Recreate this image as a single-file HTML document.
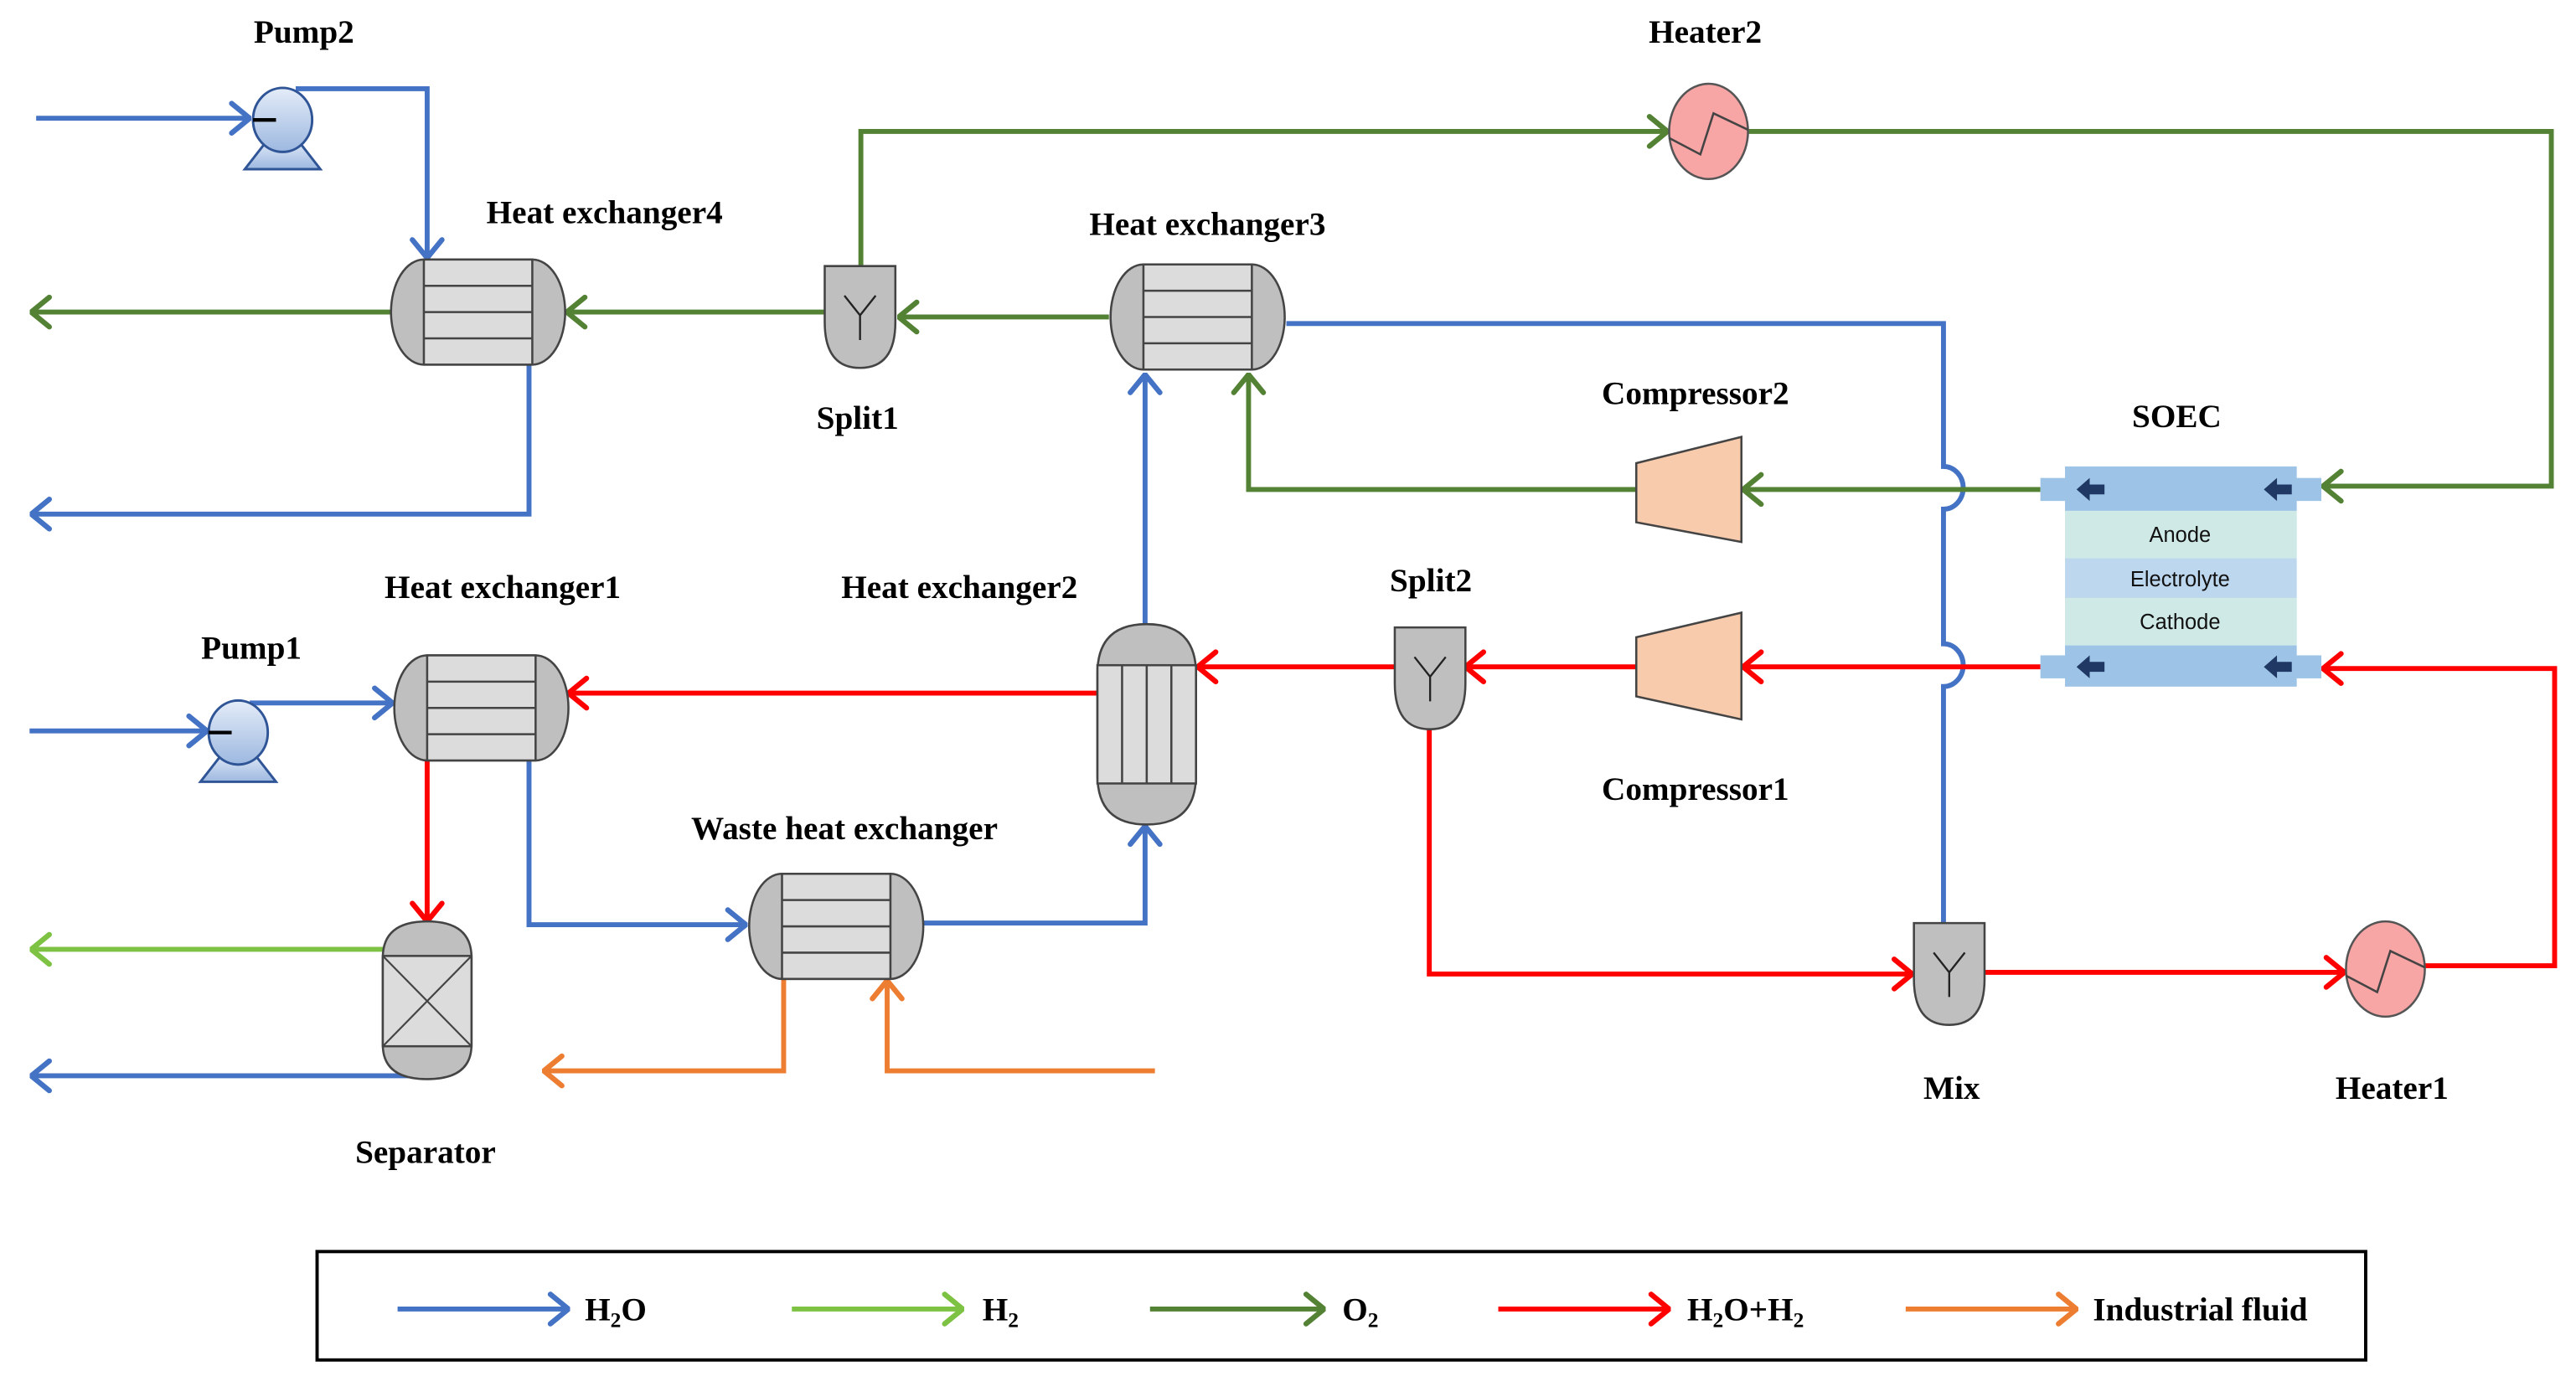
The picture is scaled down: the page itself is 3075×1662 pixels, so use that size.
<!DOCTYPE html>
<html><head><meta charset="utf-8"><style>html,body{margin:0;padding:0;background:#fff}svg{display:block}</style></head>
<body>
<svg width="3075" height="1662" viewBox="0 0 1568 847.5" xmlns="http://www.w3.org/2000/svg" font-family="Liberation Serif, serif">
<defs>
<marker id="mb" viewBox="0 0 14 22" refX="13" refY="11" markerWidth="14" markerHeight="22" markerUnits="userSpaceOnUse" orient="auto"><path d="M2 2 L13 11 L2 20" fill="none" stroke="#4472C4" stroke-width="3.2" stroke-linecap="round"/></marker>
<marker id="mg" viewBox="0 0 14 22" refX="13" refY="11" markerWidth="14" markerHeight="22" markerUnits="userSpaceOnUse" orient="auto"><path d="M2 2 L13 11 L2 20" fill="none" stroke="#548235" stroke-width="3.2" stroke-linecap="round"/></marker>
<marker id="ml" viewBox="0 0 14 22" refX="13" refY="11" markerWidth="14" markerHeight="22" markerUnits="userSpaceOnUse" orient="auto"><path d="M2 2 L13 11 L2 20" fill="none" stroke="#7DC242" stroke-width="3.2" stroke-linecap="round"/></marker>
<marker id="mr" viewBox="0 0 14 22" refX="13" refY="11" markerWidth="14" markerHeight="22" markerUnits="userSpaceOnUse" orient="auto"><path d="M2 2 L13 11 L2 20" fill="none" stroke="#FF0000" stroke-width="3.2" stroke-linecap="round"/></marker>
<marker id="mo" viewBox="0 0 14 22" refX="13" refY="11" markerWidth="14" markerHeight="22" markerUnits="userSpaceOnUse" orient="auto"><path d="M2 2 L13 11 L2 20" fill="none" stroke="#ED7D31" stroke-width="3.2" stroke-linecap="round"/></marker>
<linearGradient id="pg" x1="0" y1="0" x2="0" y2="1"><stop offset="0" stop-color="#e4ecf8"/><stop offset="1" stop-color="#9db8e0"/></linearGradient>
<g id="hhx">
<path d="M20 0 H86 A20 32 0 0 1 86 64 H20 A20 32 0 0 1 20 0 Z" fill="#bfbfbf" stroke="#444" stroke-width="1.3"/>
<rect x="20" y="0" width="66" height="64" fill="#dcdcdc" stroke="#444" stroke-width="1.3"/>
<path d="M20 16 H86 M20 32 H86 M20 48 H86" stroke="#444" stroke-width="1.3"/>
</g>
<g id="spl">
<path d="M0 0 H43 V34 Q43 62 21.5 62 Q0 62 0 34 Z" fill="#bfbfbf" stroke="#444" stroke-width="1.3"/>
<path d="M12 18 L21.5 30 L31 18 M21.5 30 V45" fill="none" stroke="#222" stroke-width="1.2"/>
</g>
<g id="pump">
<path d="M-23 30 L-9 12 L9 12 L23 30 Z" fill="url(#pg)" stroke="#2f5597" stroke-width="1.5"/>
<ellipse cx="0" cy="0" rx="18" ry="19.5" fill="url(#pg)" stroke="#2f5597" stroke-width="1.5"/>
<path d="M-18 0 H-4" stroke="#000" stroke-width="2.2"/>
</g>
<g id="heat">
<ellipse cx="0" cy="0" rx="24" ry="29" fill="#f8a5a5" stroke="#555" stroke-width="1.3"/>
<path d="M-24 4 L-5 14 L3 -11 L24 -1" fill="none" stroke="#444" stroke-width="1.3"/>
</g>
</defs>

<g fill="none" stroke-width="3">
<g stroke="#4472C4">
<path d="M22 72 H152" marker-end="url(#mb)"/>
<path d="M180 54 H260 V157" marker-end="url(#mb)"/>
<path d="M322 222 V313 H19" marker-end="url(#mb)"/>
<path d="M783 197 H1183 V284 A12 13 0 0 1 1183 310 V392 A12 13 0 0 1 1183 418 V562"/>
<path d="M697 380 V228" marker-end="url(#mb)"/>
<path d="M562 562 H697 V503" marker-end="url(#mb)"/>
<path d="M322 462 V563 H454" marker-end="url(#mb)"/>
<path d="M18 445 H126" marker-end="url(#mb)"/>
<path d="M152 428 H239" marker-end="url(#mb)"/>
<path d="M260 655 H19" marker-end="url(#mb)"/>
<path d="M242 797 H346" marker-end="url(#mb)"/>
</g>
<g stroke="#548235">
<path d="M238 190 H19" marker-end="url(#mg)"/>
<path d="M502 190 H345" marker-end="url(#mg)"/>
<path d="M675 193 H547" marker-end="url(#mg)"/>
<path d="M524 163 V80 H1015" marker-end="url(#mg)"/>
<path d="M1064 80 H1553 V296 H1414" marker-end="url(#mg)"/>
<path d="M1242 298 H1061" marker-end="url(#mg)"/>
<path d="M996 298 H760 V228" marker-end="url(#mg)"/>
<path d="M700 797 H806" marker-end="url(#mg)"/>
</g>
<g stroke="#7DC242">
<path d="M233 578 H19" marker-end="url(#ml)"/>
<path d="M482 797 H586" marker-end="url(#ml)"/>
</g>
<g stroke="#FF0000">
<path d="M668 422 H346" marker-end="url(#mr)"/>
<path d="M849 406 H729" marker-end="url(#mr)"/>
<path d="M996 406 H892" marker-end="url(#mr)"/>
<path d="M1242 406 H1061" marker-end="url(#mr)"/>
<path d="M1476 588 H1555 V407 H1414" marker-end="url(#mr)"/>
<path d="M870 444 V593 H1164" marker-end="url(#mr)"/>
<path d="M1208 592 H1427" marker-end="url(#mr)"/>
<path d="M260 462 V561" marker-end="url(#mr)"/>
<path d="M912 797 H1016" marker-end="url(#mr)"/>
</g>
<g stroke="#ED7D31">
<path d="M477 596 V652 H331" marker-end="url(#mo)"/>
<path d="M703 652 H540 V597" marker-end="url(#mo)"/>
<path d="M1160 797 H1264" marker-end="url(#mo)"/>
</g>
</g>

<use href="#hhx" x="238" y="158"/>
<use href="#hhx" x="676" y="161"/>
<use href="#hhx" x="240" y="399"/>
<use href="#hhx" x="456" y="532"/>
<g>
<path d="M668 410 Q668 380 698 380 Q728 380 728 410 V472 Q728 502 698 502 Q668 502 668 472 Z" fill="#bfbfbf" stroke="#444" stroke-width="1.3"/>
<rect x="668" y="405" width="60" height="72" fill="#dcdcdc" stroke="#444" stroke-width="1.3"/>
<path d="M683 405 V477 M698 405 V477 M713 405 V477" stroke="#444" stroke-width="1.3"/>
</g>
<use href="#spl" x="502" y="162"/>
<use href="#spl" x="849" y="382"/>
<use href="#spl" x="1165" y="562"/>
<use href="#pump" x="172" y="73"/>
<use href="#pump" x="145" y="446"/>
<use href="#heat" x="1040" y="80"/>
<use href="#heat" x="1452" y="590"/>
<path d="M996 282 L1060 266 V330 L996 318 Z" fill="#F8CBAD" stroke="#444" stroke-width="1.3"/>
<path d="M996 388 L1060 373 V438 L996 424 Z" fill="#F8CBAD" stroke="#444" stroke-width="1.3"/>
<g>
<path d="M233 583 Q233 561 260 561 Q287 561 287 583 V636 Q287 657 260 657 Q233 657 233 636 Z" fill="#bfbfbf" stroke="#444" stroke-width="1.3"/>
<rect x="233" y="582" width="54" height="55" fill="#dcdcdc" stroke="#444" stroke-width="1.3"/>
<path d="M233 582 L287 637 M287 582 L233 637" stroke="#444" stroke-width="1.1"/>
</g>
<g>
<rect x="1242" y="291" width="16" height="14" fill="#9dc3e6"/>
<rect x="1397" y="291" width="16" height="14" fill="#9dc3e6"/>
<rect x="1242" y="399" width="16" height="14" fill="#9dc3e6"/>
<rect x="1397" y="399" width="16" height="14" fill="#9dc3e6"/>
<rect x="1257" y="284" width="141" height="134" fill="#bdd7ee"/>
<rect x="1257" y="284" width="141" height="27" fill="#9dc3e6"/>
<rect x="1257" y="311" width="141" height="29" fill="#cfe9e6"/>
<rect x="1257" y="340" width="141" height="24" fill="#bdd7ee"/>
<rect x="1257" y="364" width="141" height="29" fill="#cfe9e6"/>
<rect x="1257" y="393" width="141" height="25" fill="#9dc3e6"/>
<g fill="#1f3864">
<path d="M1264 298 L1272 291 V295 H1281 V301 H1272 V305 Z"/>
<path d="M1378 298 L1386 291 V295 H1395 V301 H1386 V305 Z"/>
<path d="M1264 406 L1272 399 V403 H1281 V409 H1272 V413 Z"/>
<path d="M1378 406 L1386 399 V403 H1395 V409 H1386 V413 Z"/>
</g>
<g font-family="Liberation Sans, sans-serif" font-size="13" text-anchor="middle" fill="#111">
<text x="1327" y="330">Anode</text>
<text x="1327" y="357">Electrolyte</text>
<text x="1327" y="383">Cathode</text>
</g>
</g>

<g font-size="20" font-weight="bold" text-anchor="middle" fill="#000">
<text x="185" y="26">Pump2</text>
<text x="1038" y="26">Heater2</text>
<text x="368" y="136">Heat exchanger4</text>
<text x="735" y="143">Heat exchanger3</text>
<text x="522" y="261">Split1</text>
<text x="1032" y="246">Compressor2</text>
<text x="1325" y="260">SOEC</text>
<text x="306" y="364">Heat exchanger1</text>
<text x="584" y="364">Heat exchanger2</text>
<text x="871" y="360">Split2</text>
<text x="153" y="401">Pump1</text>
<text x="1032" y="487">Compressor1</text>
<text x="514" y="511">Waste heat exchanger</text>
<text x="1188" y="669">Mix</text>
<text x="1456" y="669">Heater1</text>
<text x="259" y="708">Separator</text>
</g>

<rect x="193" y="762" width="1247" height="66" fill="none" stroke="#000" stroke-width="2"/>
<g font-size="20" font-weight="bold" fill="#000">
<text x="356" y="804">H<tspan font-size="13" dy="4">2</tspan><tspan dy="-4">O</tspan></text>
<text x="598" y="804">H<tspan font-size="13" dy="4">2</tspan></text>
<text x="817" y="804">O<tspan font-size="13" dy="4">2</tspan></text>
<text x="1027" y="804">H<tspan font-size="13" dy="4">2</tspan><tspan dy="-4">O+H</tspan><tspan font-size="13" dy="4">2</tspan></text>
<text x="1274" y="804">Industrial fluid</text>
</g>
</svg>
</body></html>
